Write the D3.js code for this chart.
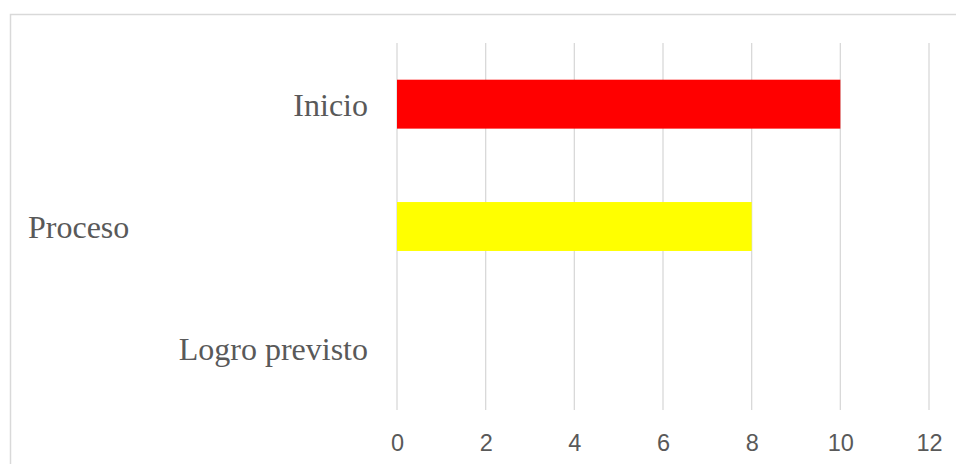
<!DOCTYPE html>
<html>
<head>
<meta charset="utf-8">
<script src="https://cdn.jsdelivr.net/npm/d3@7"></script>
<style>
  body { margin: 0; background: #fff; }
  svg { display: block; }
</style>
</head>
<body>
<div id="chart"></div>
<script>
const FRAME_WIDTH = 956;
const FRAME_HEIGHT = 464;
const PLOT = {left: 397, right: 929, top: 43, bottom: 410};

// data
const categories = ["Inicio", "Proceso", "Logro previsto"];
const values = [10, 8, 0];
const barColors = ["#ff0000", "#ffff00", "#00b050"];
const xTicks = [0, 2, 4, 6, 8, 10, 12];

const FRAME = d3.select("#chart")
  .append("svg")
    .attr("width", FRAME_WIDTH)
    .attr("height", FRAME_HEIGHT);

// chart border (runs off the right and bottom edges)
FRAME.append("rect")
  .attr("x", 10.5)
  .attr("y", 14.5)
  .attr("width", 1000)
  .attr("height", 500)
  .attr("fill", "none")
  .attr("stroke", "#d9d9d9")
  .attr("stroke-width", 1.5);

const X_SCALE = d3.scaleLinear()
  .domain([0, 12])
  .range([PLOT.left, PLOT.right]);

const Y_SCALE = d3.scaleBand()
  .domain(categories)
  .range([PLOT.top, PLOT.bottom])
  .paddingInner(0.6)
  .paddingOuter(0.3);

// vertical gridlines
FRAME.append("g")
  .selectAll("line")
  .data(xTicks)
  .enter()
  .append("line")
    .attr("x1", (d) => X_SCALE(d))
    .attr("x2", (d) => X_SCALE(d))
    .attr("y1", PLOT.top)
    .attr("y2", PLOT.bottom)
    .attr("stroke", "#d9d9d9")
    .attr("stroke-width", 1.3);

// bars
FRAME.append("g")
  .selectAll("rect")
  .data(categories)
  .enter()
  .append("rect")
    .attr("x", X_SCALE(0))
    .attr("y", (d) => Y_SCALE(d))
    .attr("width", (d, i) => X_SCALE(values[i]) - X_SCALE(0))
    .attr("height", Y_SCALE.bandwidth())
    .attr("fill", (d, i) => barColors[i]);

// x axis labels
const xAxis = FRAME.append("g")
  .attr("transform", "translate(0," + (PLOT.bottom + 40.5) + ")")
  .call(d3.axisBottom(X_SCALE).tickValues(xTicks).tickSize(0).tickPadding(0));
xAxis.select(".domain").remove();
xAxis.selectAll("text")
  .attr("dy", 0)
  .attr("font-family", "'Liberation Sans', Arial, sans-serif")
  .attr("font-size", "23.5px")
  .attr("fill", "#595959");

// category labels ("Proceso" sits at the far left in the original)
FRAME.append("g")
  .selectAll("text")
  .data(categories)
  .enter()
  .append("text")
    .attr("x", (d) => d === "Proceso" ? 28 : 368)
    .attr("y", (d) => Y_SCALE(d) + Y_SCALE.bandwidth() / 2 + 11.5)
    .attr("text-anchor", (d) => d === "Proceso" ? "start" : "end")
    .attr("font-family", "'Liberation Serif', 'Times New Roman', serif")
    .attr("font-size", "32px")
    .attr("fill", "#595959")
    .text((d) => d);
</script>
</body>
</html>
